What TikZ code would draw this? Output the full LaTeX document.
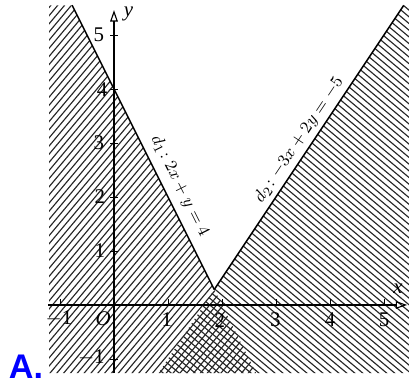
\documentclass[tikz,border=0pt]{standalone}
\usepackage{fontspec}
\setmainfont{Liberation Serif}
\newfontfamily\labfont{Liberation Sans}
\usetikzlibrary{arrows.meta}
\begin{document}
\begin{tikzpicture}[x=1cm,y=1cm,
  hatch/.style={line width=0.6pt,black!85},
  axis/.style={line width=0.6pt,-{Triangle[open,length=6pt,width=4pt]}},
  bound/.style={line width=0.8pt},
  tick/.style={line width=0.5pt},
  num/.style={font=\fontsize{11}{12}\selectfont,inner sep=0pt},
  eq/.style={font=\fontsize{9.5}{10}\selectfont,inner sep=0pt}]
\useasboundingbox (-2.111,-1.444) rectangle (5.463,5.648);
% named points
\coordinate (P) at (13/7,2/7);
\coordinate (T1) at (-0.775,5.55);
\coordinate (B1) at (2.63,-1.26);
\coordinate (T2) at (5.3667,5.55);
\coordinate (B2) at (0.8267,-1.26);
% left region hatching
\begin{scope}
  \clip (-1.2,-1.26) -- (-1.2,5.55) -- (T1) -- (B1) -- cycle;
  \begin{scope}[rotate=50]
    \foreach \i in {-95,...,95} \draw[hatch] (-10,\i*0.097) -- (10,\i*0.097);
  \end{scope}
\end{scope}
% right region hatching
\begin{scope}
  \clip (B2) -- (T2) -- (5.47,5.55) -- (5.47,-1.26) -- cycle;
  \begin{scope}[rotate=-40]
    \foreach \i in {-95,...,95} \draw[hatch] (-10,\i*0.095) -- (10,\i*0.095);
  \end{scope}
\end{scope}
% boundary lines
\draw[bound] (T1) -- (P);
\draw[bound] (T2) -- (P);
% axes
\coordinate (xs) at (-1.22,0);
\coordinate (xe) at (5.43,0);
\coordinate (ys) at (0,-1.26);
\coordinate (ye) at (0,5.46);
\draw[axis] (xs) -- (xe);
\draw[axis] (ys) -- (ye);
\node[num] (xl) at (5.26,0.31) {\textit{x}};
\node[num] (yl) at (0.27,5.39) {\textit{y}};
% ticks
\foreach \t in {-1,1,2,3,4,5} \draw[tick] (\t,0) -- (\t,0.11);
\foreach \t in {-1,1,2,3,4,5} \draw[tick] (-0.07,\t) -- (0.07,\t);
% tick labels
\node[num] (xm1) at (-1.02,-0.25) {$-$1};
\node[num] (o) at (-0.2,-0.25) {\textit{O}};
\node[num] (x1) at (0.98,-0.28) {1};
\node[num] (x2) at (1.96,-0.28) {2};
\node[num] (x3) at (2.99,-0.28) {3};
\node[num] (x4) at (4.0,-0.28) {4};
\node[num] (x5) at (5.0,-0.28) {5};
\node[num] (y5) at (-0.28,5) {5};
\node[num] (y4) at (-0.22,3.98) {4};
\node[num] (y3) at (-0.28,3) {3};
\node[num] (y2) at (-0.26,2) {2};
\node[num] (y1) at (-0.26,1) {1};
\node[num] (ym1) at (-0.42,-0.98) {$-$1};
% line labels
\node[eq,rotate=-63.43] (l1) at (1.22,2.2) {$d_1\!: 2x + y = 4$};
\node[eq,rotate=56.31] (l2) at (3.43,3.06) {$d_2\!: -3x + 2y = -5$};
% answer letter
\node[font=\labfont\bfseries\fontsize{18}{20}\selectfont,text=blue,inner sep=0pt,anchor=base] (ans) at (-1.63,-1.36) {A.};
\end{tikzpicture}
\end{document}
